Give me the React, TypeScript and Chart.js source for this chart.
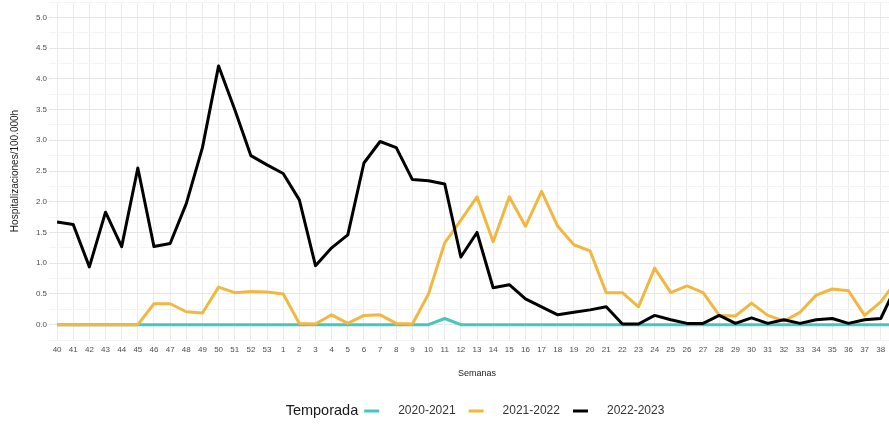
import React, { useEffect, useRef } from 'react';
import { Chart, registerables } from 'chart.js';

Chart.register(...registerables);

const weeks = [
  '40', '41', '42', '43', '44', '45', '46', '47', '48', '49', '50', '51', '52', '53',
  '1', '2', '3', '4', '5', '6', '7', '8', '9', '10', '11', '12', '13', '14', '15', '16',
  '17', '18', '19', '20', '21', '22', '23', '24', '25', '26', '27', '28', '29', '30',
  '31', '32', '33', '34', '35', '36', '37', '38', '39',
];

const season2020 = [
  0, 0, 0, 0, 0, 0, 0, 0, 0, 0, 0, 0, 0, 0,
  0, 0, 0, 0, 0, 0, 0, 0, 0, 0, 0.1, 0, 0, 0, 0, 0,
  0, 0, 0, 0, 0, 0, 0, 0, 0, 0, 0, 0, 0, 0,
  0, 0, 0, 0, 0, 0, 0, 0, 0,
];

const season2021 = [
  0, 0, 0, 0, 0, 0, 0.34, 0.34, 0.21, 0.19, 0.61, 0.52, 0.54, 0.53,
  0.5, 0.02, 0.01, 0.16, 0.02, 0.15, 0.16, 0.02, 0.01, 0.5, 1.33, 1.7, 2.08, 1.35, 2.08, 1.6,
  2.17, 1.6, 1.3, 1.2, 0.52, 0.52, 0.29, 0.92, 0.52, 0.63, 0.52, 0.15, 0.14, 0.35,
  0.15, 0.06, 0.2, 0.48, 0.58, 0.55, 0.15, 0.37, 0.72,
];

const season2022 = [
  1.67, 1.63, 0.94, 1.83, 1.27, 2.55, 1.27, 1.32, 1.97, 2.88, 4.21, 3.5, 2.75, 2.6,
  2.46, 2.03, 0.96, 1.25, 1.46, 2.63, 2.98, 2.88, 2.36, 2.34, 2.29, 1.1, 1.5, 0.6, 0.65, 0.42,
  0.29, 0.16, 0.2, 0.24, 0.29, 0.01, 0.01, 0.15, 0.08, 0.02, 0.02, 0.15, 0.02, 0.11,
  0.02, 0.08, 0.02, 0.08, 0.1, 0.02, 0.08, 0.1, 0.65,
];

const seasonLabels = ['2020-2021', '2021-2022', '2022-2023'];
const seasonColors = ['#45C6C3', '#F2B741', '#000000'];
const legendTitle = 'Temporada';
const yTitle = 'Hospitalizaciones/100.000h';
const xTitle = 'Semanas';

const FONT = '"Liberation Sans", Arial, Helvetica, sans-serif';

const isMajor = (v: number) => Math.abs(v * 2 - Math.round(v * 2)) < 1e-6;

const inlineLegend = {
  id: 'inlineLegend',
  afterDraw(chart: any) {
    const { ctx, chartArea } = chart;
    const sets = chart.data.datasets;
    ctx.save();
    ctx.textBaseline = 'middle';
    ctx.textAlign = 'left';
    const y = 411;
    const titleFont = `14.5px ${FONT}`;
    const itemFont = `12px ${FONT}`;
    ctx.font = titleFont;
    const titleW = ctx.measureText(legendTitle).width;
    ctx.font = itemFont;
    const widths = sets.map((d: any) => ctx.measureText(d.label).width);
    const keyW = 15;
    const gapTitle = 6;
    const gapKey = 19;
    const gapItem = 13;
    let total = titleW;
    widths.forEach((w: number, i: number) => {
      total += (i === 0 ? gapTitle : gapItem) + keyW + gapKey + w;
    });
    let x = (chartArea.left + chartArea.right) / 2 - 2 - total / 2;
    ctx.font = titleFont;
    ctx.fillStyle = '#1a1a1a';
    ctx.fillText(legendTitle, x, y);
    x += titleW;
    ctx.font = itemFont;
    sets.forEach((d: any, i: number) => {
      x += i === 0 ? gapTitle : gapItem;
      ctx.strokeStyle = d.borderColor;
      ctx.lineWidth = 3;
      ctx.beginPath();
      ctx.moveTo(x, y);
      ctx.lineTo(x + keyW, y);
      ctx.stroke();
      x += keyW + gapKey;
      ctx.fillStyle = '#333333';
      ctx.fillText(d.label, x, y);
      x += widths[i];
    });
    ctx.restore();
  },
};

export default function App() {
  const ref = useRef<HTMLCanvasElement | null>(null);

  useEffect(() => {
    if (!ref.current) return;
    const series = [season2020, season2021, season2022];
    const chart = new Chart(ref.current, {
      type: 'line',
      data: {
        labels: weeks,
        datasets: series.map((values, i) => ({
          label: seasonLabels[i],
          data: values,
          borderColor: seasonColors[i],
          backgroundColor: seasonColors[i],
          borderWidth: 3,
          pointRadius: 0,
          pointHoverRadius: 0,
          tension: 0,
          fill: false,
          borderJoinStyle: 'round' as const,
          order: 2 - i,
        })),
      },
      options: {
        responsive: false,
        animation: false,
        layout: { padding: { top: 2, right: 10, bottom: 40, left: 0 } },
        plugins: {
          legend: { display: false },
          tooltip: { enabled: false },
        },
        scales: {
          x: {
            type: 'category',
            offset: true,
            border: { display: false },
            grid: { color: '#EBEBEB', lineWidth: 1, drawTicks: false, offset: false },
            ticks: {
              autoSkip: false,
              maxRotation: 0,
              minRotation: 0,
              padding: 5,
              color: '#4D4D4D',
              font: { family: FONT, size: 8 },
            },
            title: {
              display: true,
              text: xTitle,
              color: '#1a1a1a',
              font: { family: FONT, size: 9 },
              padding: { top: 0, bottom: 6.5 },
            },
            afterFit: (s: any) => {
              s.height = 45;
              s.paddingLeft = 0;
              s.paddingRight = 0;
            },
          },
          y: {
            type: 'linear',
            min: -0.25,
            max: 5.25,
            border: { display: false },
            grid: {
              drawTicks: false,
              lineWidth: 1,
              color: (c: any) => (isMajor(c.tick.value) ? '#E6E6E6' : '#F3F3F3'),
            },
            ticks: {
              stepSize: 0.25,
              padding: 2,
              color: '#4D4D4D',
              font: { family: FONT, size: 8 },
              callback: (v: any) => {
                const n = Number(v);
                return isMajor(n) && n >= 0 && n <= 5 ? n.toFixed(1) : '';
              },
            },
            title: {
              display: true,
              text: yTitle,
              color: '#1a1a1a',
              font: { family: FONT, size: 10 },
              padding: { top: 9, bottom: 0 },
            },
            afterFit: (s: any) => {
              s.width = 49;
              s.paddingTop = 0;
              s.paddingBottom = 0;
            },
          },
        },
      },
      plugins: [inlineLegend],
    });
    return () => chart.destroy();
  }, []);

  return (
    <div
      style={{
        position: 'fixed',
        left: 0,
        top: 0,
        width: 889,
        height: 425,
        overflow: 'hidden',
        background: '#ffffff',
      }}
    >
      <canvas ref={ref} width={915} height={425} style={{ display: 'block', width: 915, height: 425 }} />
    </div>
  );
}
